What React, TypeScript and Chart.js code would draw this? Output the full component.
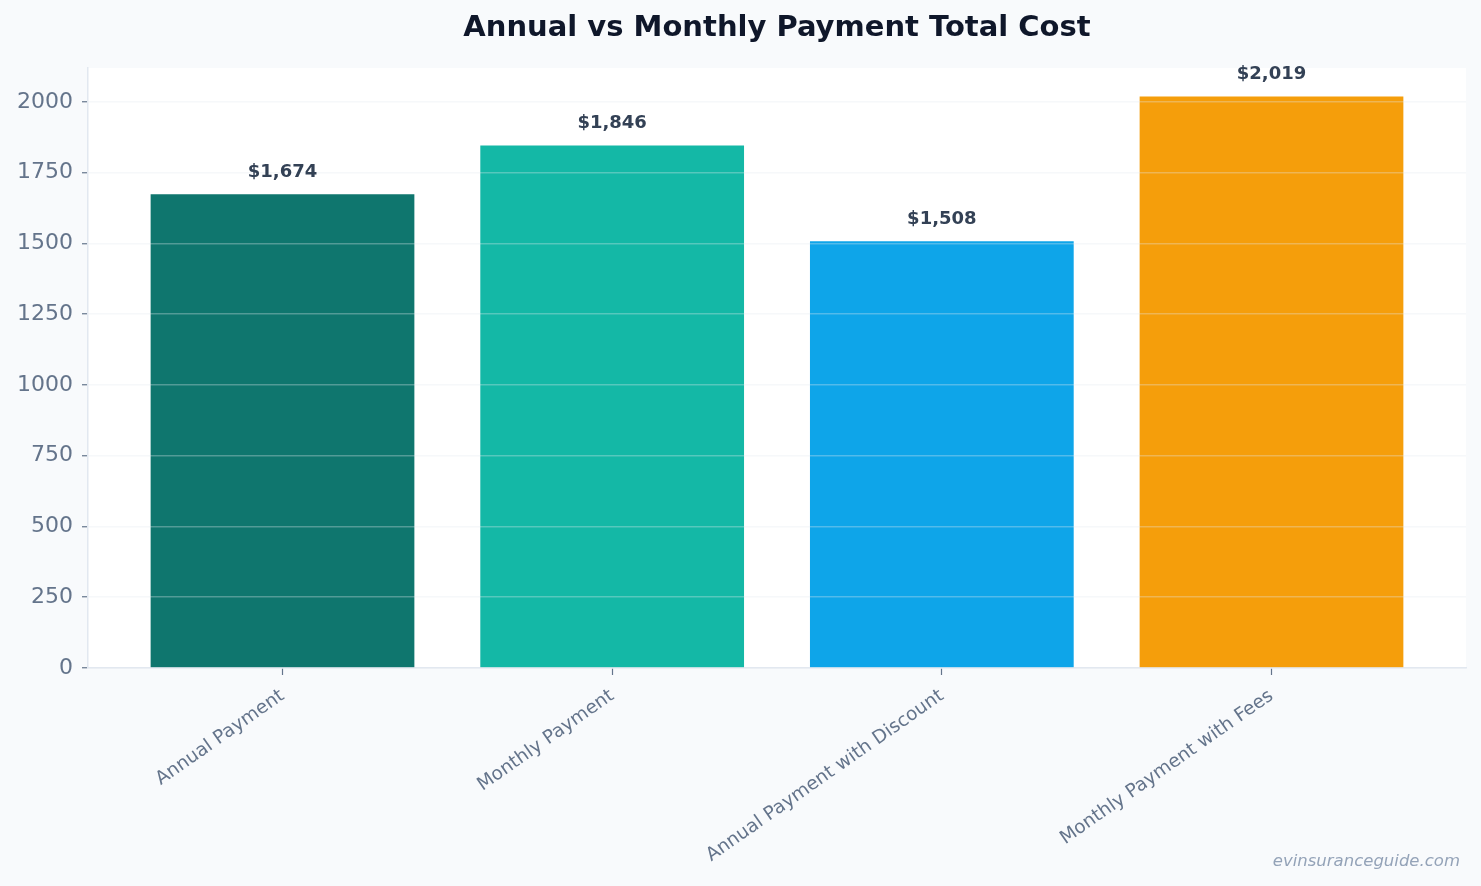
import React, { useEffect, useRef } from "react";
import { Chart, registerables } from "chart.js";

Chart.register(...registerables);

// Plan totals
const categories = [
  "Annual Payment",
  "Monthly Payment",
  "Annual Payment with Discount",
  "Monthly Payment with Fees",
];
const totals = [1674, 1846, 1508, 2019];
const barColors = ["#0f766e", "#14b8a6", "#0ea5e9", "#f59e0b"];
const yTickValues = [0, 250, 500, 750, 1000, 1250, 1500, 1750, 2000];
const titleText = "Annual vs Monthly Payment Total Cost";
const watermarkText = "evinsuranceguide.com";

const FONT = "'DejaVu Sans', 'Noto Sans', sans-serif";
const W = 1481;
const H = 886;

const decorPlugin = {
  id: "decor",
  beforeDraw(chart: any) {
    const { ctx, chartArea } = chart;
    ctx.save();
    ctx.fillStyle = "#f8fafc";
    ctx.fillRect(0, 0, chart.width, chart.height);
    ctx.fillStyle = "#ffffff";
    ctx.fillRect(
      chartArea.left,
      chartArea.top,
      chartArea.right - chartArea.left,
      chartArea.bottom - chartArea.top
    );
    ctx.restore();
  },
  afterDraw(chart: any) {
    const { ctx, chartArea } = chart;
    ctx.save();
    // title
    ctx.fillStyle = "#0f172a";
    ctx.font = `bold 29px ${FONT}`;
    ctx.textAlign = "center";
    ctx.textBaseline = "middle";
    ctx.fillText(titleText, (chartArea.left + chartArea.right) / 2, 28);

    // value labels above each bar
    const meta = chart.getDatasetMeta(0);
    ctx.fillStyle = "#334155";
    ctx.font = `bold 18px ${FONT}`;
    meta.data.forEach((bar: any, i: number) => {
      const v = totals[i];
      ctx.fillText("$" + v.toLocaleString("en-US"), bar.x, bar.y - 22);
    });

    // site mark
    ctx.fillStyle = "#94a3b8";
    ctx.font = `italic 16.5px ${FONT}`;
    ctx.textAlign = "right";
    ctx.fillText(watermarkText, 1460, 862);
    ctx.restore();
  },
};

export default function App() {
  const canvasRef = useRef<HTMLCanvasElement | null>(null);

  useEffect(() => {
    document.body.style.margin = "0";
    document.body.style.overflow = "hidden";
    const canvas = canvasRef.current;
    if (!canvas) return;

    const yMax = Math.max(...totals) * 1.05;
    const span = categories.length - 1 + 0.8;
    const xPad = span * 0.05 + 0.4;

    const chart = new Chart(canvas, {
      type: "bar",
      data: {
        datasets: [
          {
            data: totals.map((v, i) => ({ x: i, y: v })),
            backgroundColor: barColors,
            borderWidth: 0,
            categoryPercentage: 0.8,
            barPercentage: 1,
          },
        ],
      },
      options: {
        responsive: false,
        animation: false,
        devicePixelRatio: 1,
        layout: { padding: { left: 0, top: 68, right: 15, bottom: 0 } },
        plugins: {
          legend: { display: false },
          title: { display: false },
          tooltip: { enabled: false },
        },
        scales: {
          x: {
            type: "linear",
            offset: false,
            min: -xPad,
            max: categories.length - 1 + xPad,
            afterBuildTicks(scale: any) {
              scale.ticks = categories.map((_, i) => ({ value: i }));
            },
            afterFit(scale: any) {
              scale.height = 218;
            },
            grid: {
              offset: false,
              drawOnChartArea: false,
              drawTicks: true,
              tickLength: 7,
              tickColor: "#64748b",
              tickWidth: 1.2,
            },
            border: { display: true, color: "#e2e8f0", width: 1.5 },
            ticks: {
              autoSkip: false,
              minRotation: 35,
              maxRotation: 35,
              padding: 10,
              color: "#64748b",
              font: { family: FONT, size: 18.6 },
              callback: (v: any) => categories[v as number] ?? "",
            },
          },
          y: {
            type: "linear",
            min: 0,
            max: yMax,
            afterBuildTicks(scale: any) {
              scale.ticks = yTickValues.map((v) => ({ value: v }));
            },
            afterFit(scale: any) {
              scale.width = 88;
            },
            grid: {
              z: 1,
              color: "rgba(226, 232, 240, 0.32)",
              lineWidth: 1.5,
              drawTicks: true,
              tickLength: 6,
              tickColor: "#64748b",
              tickWidth: 1.2,
            },
            border: { display: true, color: "#e2e8f0", width: 1.5, z: 2 },
            ticks: {
              padding: 9,
              color: "#64748b",
              font: { family: FONT, size: 22 },
              callback: (v: any) => String(v),
            },
          },
        },
      },
      plugins: [decorPlugin],
    } as any);

    return () => chart.destroy();
  }, []);

  return (
    <div style={{ width: W, height: H, overflow: "hidden" }}>
      <canvas ref={canvasRef} width={W} height={H} style={{ display: "block" }} />
    </div>
  );
}
